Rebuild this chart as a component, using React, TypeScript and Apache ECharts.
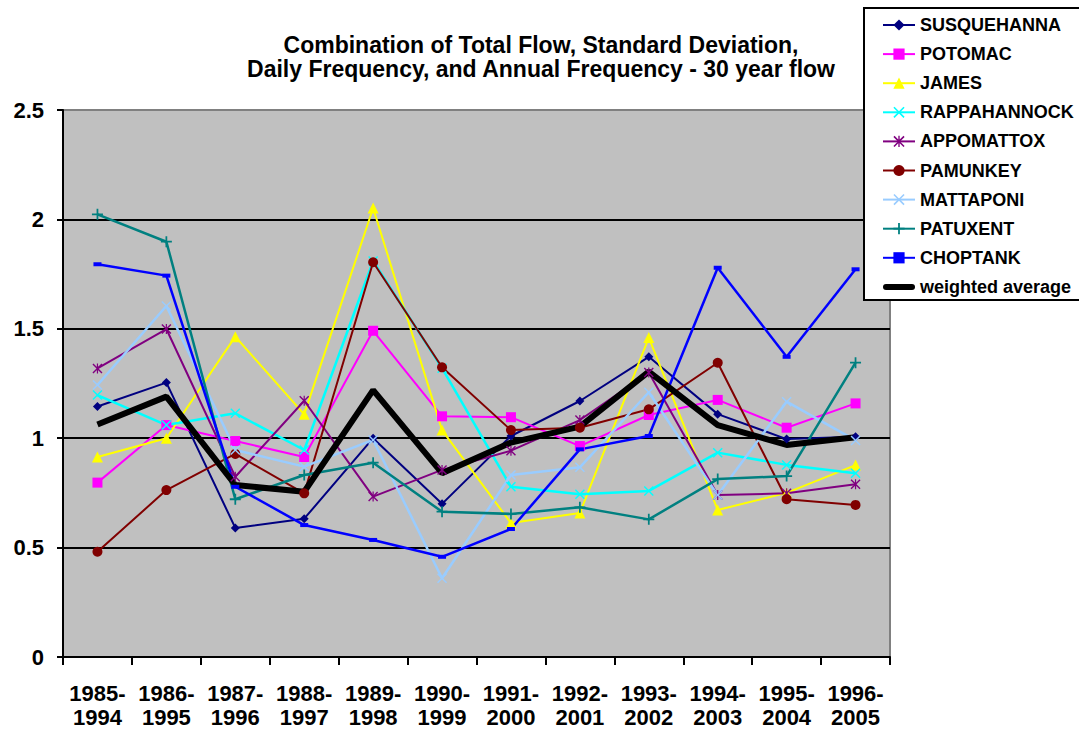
import React, { useEffect, useRef } from "react";
import * as echarts from "echarts";

const categories = ["1985-\n1994", "1986-\n1995", "1987-\n1996", "1988-\n1997", "1989-\n1998", "1990-\n1999", "1991-\n2000", "1992-\n2001", "1993-\n2002", "1994-\n2003", "1995-\n2004", "1996-\n2005"];

const susquehanna = [1.145, 1.254, 0.59, 0.632, 1.0, 0.70, 1.01, 1.17, 1.372, 1.11, 0.996, 1.007];
const potomac = [0.797, 1.06, 0.987, 0.914, 1.491, 1.10, 1.096, 0.964, 1.106, 1.175, 1.048, 1.159];
const james = [0.914, 1.0, 1.464, 1.109, 2.052, 1.037, 0.612, 0.658, 1.46, 0.672, 0.75, 0.877];
const rappahannock = [1.197, 1.06, 1.114, 0.946, 1.81, 1.32, 0.778, 0.744, 0.759, 0.934, 0.878, 0.84];
const appomattox = [1.319, 1.499, 0.824, 1.171, 0.733, 0.855, 0.943, 1.083, 1.30, 0.74, 0.748, 0.79];
const pamunkey = [0.481, 0.763, 0.928, 0.748, 1.804, 1.324, 1.037, 1.048, 1.132, 1.345, 0.721, 0.695];
const mattaponi = [1.243, 1.604, 0.946, 0.87, 0.992, 0.36, 0.832, 0.867, 1.21, 0.74, 1.167, 0.99];
const patuxent = [2.023, 1.898, 0.721, 0.832, 0.888, 0.664, 0.654, 0.684, 0.629, 0.813, 0.827, 1.345];
const choptank = [1.795, 1.743, 0.778, 0.603, 0.535, 0.458, 0.585, 0.949, 1.01, 1.779, 1.372, 1.772];
const weightedAverage = [1.063, 1.19, 0.786, 0.755, 1.22, 0.84, 0.98, 1.053, 1.304, 1.06, 0.969, 1.004];

const yTicks = { min: 0, max: 2.5, interval: 0.5 };

const FONT = "'Liberation Sans', Arial, sans-serif";
const X_PATH = "path://M0,1 L1,0 L5,4 L9,0 L10,1 L6,5 L10,9 L9,10 L5,6 L1,10 L0,9 L4,5 Z";
const ASTER_PATH = "path://M0,1 L1,0 L5,4 L9,0 L10,1 L6,5 L10,9 L9,10 L5,6 L1,10 L0,9 L4,5 Z M4.4,0 L5.6,0 L5.6,10 L4.4,10 Z";
const PLUS_PATH = "path://M4.2,0 L5.8,0 L5.8,4.2 L10,4.2 L10,5.8 L5.8,5.8 L5.8,10 L4.2,10 L4.2,5.8 L0,5.8 L0,4.2 L4.2,4.2 Z";
const THICK_LINE_ICON = "path://M3,0 L29,0 A3,3 0 0 1 29,6 L3,6 A3,3 0 0 1 3,0 Z";

export default function App() {
  const ref = useRef<HTMLDivElement>(null);
  useEffect(() => {
    if (!ref.current) return;
    const chart = echarts.init(ref.current, null, { renderer: "svg" });
    const mk = (name: string, data: number[], color: string, symbol: any, symbolSize: any, width: number) => ({
      name,
      type: "line",
      data,
      symbol,
      symbolSize,
      showSymbol: symbol !== "none",
      itemStyle: { color },
      lineStyle: { color, width },
      emphasis: { disabled: true },
      z: 2,
    });
    const names = ["SUSQUEHANNA", "POTOMAC", "JAMES", "RAPPAHANNOCK", "APPOMATTOX", "PAMUNKEY", "MATTAPONI", "PATUXENT", "CHOPTANK"];
    chart.setOption({
      animation: false,
      backgroundColor: "#ffffff",
      textStyle: { fontFamily: FONT },
      title: {
        text: "Combination of Total Flow, Standard Deviation,\nDaily Frequency, and Annual Frequency - 30 year flow",
        left: 536,
        textAlign: "center",
        top: 28,
        textStyle: { fontFamily: FONT, fontSize: 23, fontWeight: "bold", color: "#000", lineHeight: 24 },
      },
      graphic: [
        {
          type: "rect",
          shape: { x: 864, y: 8, width: 220, height: 292 },
          style: { fill: "#ffffff", stroke: "#000000", lineWidth: 2 },
          z: 5,
        },
      ],
      legend: {
        orient: "vertical",
        left: 882,
        top: 16,
        padding: 0,
        itemWidth: 32,
        itemHeight: 14,
        itemGap: 11.1,
        symbolKeepAspect: true,
        z: 10,
        textStyle: { fontFamily: FONT, fontSize: 18, fontWeight: "bold", color: "#000" },
        data: [
          ...names.map((n) => ({ name: n })),
          { name: "weighted average", icon: THICK_LINE_ICON, itemStyle: { color: "#000" } },
        ],
      },
      grid: {
        left: 63,
        right: 189,
        top: 110,
        bottom: 73,
        show: true,
        backgroundColor: "#C0C0C0",
        borderColor: "#808080",
        borderWidth: 2,
      },
      xAxis: {
        type: "category",
        data: categories,
        boundaryGap: true,
        axisLine: { show: true, lineStyle: { color: "#000", width: 2 } },
        axisTick: { show: true, length: 8, lineStyle: { color: "#000", width: 2 } },
        axisLabel: { fontFamily: FONT, fontSize: 22, fontWeight: "bold", color: "#000", lineHeight: 24, margin: 24, interval: 0 },
        splitLine: { show: false },
      },
      yAxis: {
        type: "value",
        min: yTicks.min,
        max: yTicks.max,
        interval: yTicks.interval,
        axisLine: { show: true, lineStyle: { color: "#000", width: 2 } },
        axisTick: { show: true, length: 6, lineStyle: { color: "#000", width: 2 } },
        axisLabel: { fontFamily: FONT, fontSize: 22, fontWeight: "bold", color: "#000", margin: 19 },
        splitLine: { show: true, lineStyle: { color: ["#000", "#000", "#000", "#000", "#000", "#808080"], width: 2 } },
      },
      series: [
        mk("SUSQUEHANNA", susquehanna, "#000080", "diamond", 9, 2),
        mk("POTOMAC", potomac, "#FF00FF", "rect", 10, 2),
        mk("JAMES", james, "#FFFF00", "triangle", 11, 2),
        mk("RAPPAHANNOCK", rappahannock, "#00FFFF", X_PATH, 10, 2.5),
        mk("APPOMATTOX", appomattox, "#800080", ASTER_PATH, 10, 2),
        mk("PAMUNKEY", pamunkey, "#800000", "circle", 10, 2),
        mk("MATTAPONI", mattaponi, "#99CCFF", X_PATH, 10, 2.5),
        mk("PATUXENT", patuxent, "#008080", PLUS_PATH, 11, 2.5),
        mk("CHOPTANK", choptank, "#0000FF", "rect", [8, 4], 2.5),
        mk("weighted average", weightedAverage, "#000000", "none", 0, 6),
      ],
    });
    return () => chart.dispose();
  }, []);
  return <div ref={ref} style={{ position: "absolute", left: 0, top: 0, width: 1079, height: 730 }} />;
}
